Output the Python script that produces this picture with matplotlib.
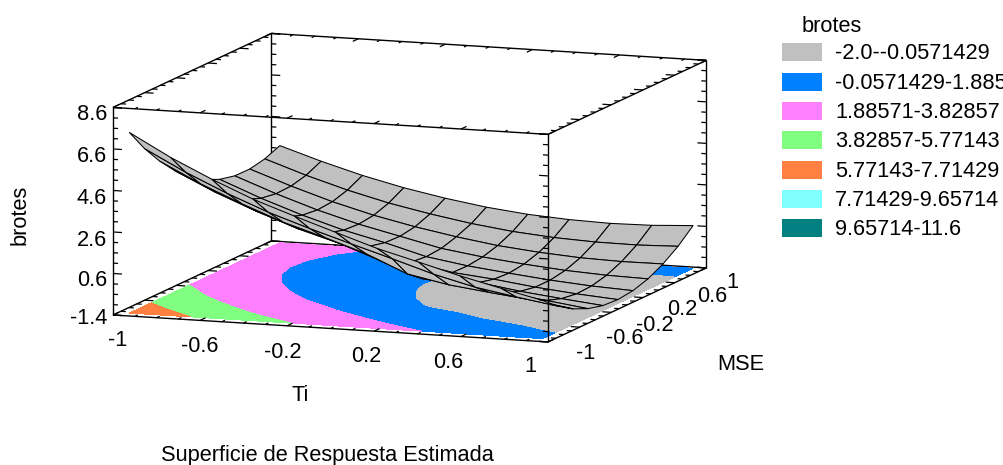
import numpy as np
import matplotlib
matplotlib.use("Agg")
import matplotlib.pyplot as plt
from matplotlib.patches import Rectangle
from mpl_toolkits.mplot3d import proj3d

plt.rcParams["font.family"] = ["Liberation Sans", "DejaVu Sans"]

W, H = 1004, 465

# Surface grid
ti_vals = [-0.95, -0.76, -0.57, -0.38, -0.19, 0.0, 0.19, 0.38, 0.57, 0.76, 0.95]
mse_vals = [-0.93, -0.74, -0.55, -0.36, -0.17, 0.02, 0.21, 0.40, 0.59, 0.78, 0.97]
# one row per Ti value, one column per MSE value
brotes_z = [
    [7.30, 6.19, 5.25, 4.45, 3.82, 3.34, 3.01, 2.84, 2.83, 2.98, 3.28],
    [6.22, 5.17, 4.27, 3.52, 2.93, 2.50, 2.22, 2.10, 2.13, 2.31, 2.65],
    [5.29, 4.28, 3.43, 2.72, 2.17, 1.78, 1.53, 1.44, 1.50, 1.72, 2.09],
    [4.45, 3.49, 2.67, 2.01, 1.50, 1.14, 0.93, 0.88, 0.97, 1.22, 1.62],
    [3.76, 2.83, 2.06, 1.43, 0.95, 0.62, 0.45, 0.42, 0.54, 0.82, 1.24],
    [3.10, 2.22, 1.40, 0.72, 0.14, -0.02, -0.10, -0.04, 0.18, 0.48, 0.93],
    [2.45, 1.62, 0.55, -0.02, -0.28, -0.40, -0.42, -0.33, -0.12, 0.22, 0.71],
    [1.92, 1.00, 0.15, -0.20, -0.42, -0.60, -0.65, -0.55, -0.32, 0.05, 0.58],
    [1.38, 0.50, -0.10, -0.45, -0.72, -0.86, -0.86, -0.73, -0.46, -0.04, 0.52],
    [0.90, 0.15, -0.33, -0.70, -0.95, -1.06, -1.02, -0.84, -0.52, -0.06, 0.55],
    [0.44, -0.17, -0.64, -0.97, -1.16, -1.21, -1.12, -0.89, -0.51, 0.00, 0.66],
]

levels = [-2.0, -0.0571429, 1.88571, 3.82857, 5.77143, 7.71429, 9.65714, 11.6]
level_colors = ["#C0C0C0", "#0080FF", "#FF80FF", "#80FF80", "#FF8040", "#80FFFF", "#008080"]
legend_labels = [
    "-2.0--0.0571429",
    "-0.0571429-1.88571",
    "1.88571-3.82857",
    "3.82857-5.77143",
    "5.77143-7.71429",
    "7.71429-9.65714",
    "9.65714-11.6",
]

ti_ticks = [-1, -0.6, -0.2, 0.2, 0.6, 1]
mse_ticks = [-1, -0.6, -0.2, 0.2, 0.6, 1]
z_ticks = [-1.4, 0.6, 2.6, 4.6, 6.6, 8.6]
ti_labels = ["-1", "-0.6", "-0.2", "0.2", "0.6", "1"]
mse_labels = ["-1", "-0.6", "-0.2", "0.2", "0.6", "1"]
z_labels = ["-1.4", "0.6", "2.6", "4.6", "6.6", "8.6"]

# Label centres in pixels
ti_label_px = [(118, 341), (200, 347), (283, 352), (366, 357), (448, 362), (530, 366)]
mse_label_px = [(586, 353), (625, 339), (655, 325), (682, 309), (712, 297), (732, 282)]
z_label_y = [318, 281, 240, 198, 157, 115]

FONT = 15.7

fig = plt.figure(figsize=(W / 100, H / 100), dpi=100)
ax = fig.add_axes([0, 0, 1, 1], projection="3d", proj_type="ortho", computed_zorder=False)
ax.set_axis_off()
ax.set_xlim(-1, 1, view_margin=0)
ax.set_ylim(-1, 1, view_margin=0)
ax.set_zlim(-1.4, 8.6, view_margin=0)
ax.set_box_aspect((1, 1, 0.455))
ax.view_init(elev=9.8, azim=-70)

ti_grid, mse_grid = np.meshgrid(ti_vals, mse_vals, indexing="ij")
z_grid = np.array(brotes_z)


def line3(xs, ys, zs, lw=1.0, zorder=1):
    ax.plot(xs, ys, zs, color="black", lw=lw, zorder=zorder, solid_capstyle="butt")


# Box edges and their ticks, the ones in front of the surface get a high zorder
ZLO, ZHI = z_ticks[0], z_ticks[-1]
for mse, z, d, zo in [(-1, ZLO, 1, 5), (1, ZLO, -1, 1), (-1, ZHI, 1, 5), (1, ZHI, -1, 1)]:
    line3([-1, 1], [mse, mse], [z, z], zorder=zo)
    for i, t in enumerate(np.arange(-1, 1.01, 0.1)):
        size = 0.07 if i % 4 == 0 else 0.04
        line3([t, t], [mse, mse + d * size], [z, z], lw=0.9, zorder=zo)
for ti, z, d, zo in [(-1, ZLO, 1, 1), (1, ZLO, -1, 5), (-1, ZHI, 1, 1), (1, ZHI, -1, 1)]:
    line3([ti, ti], [-1, 1], [z, z], zorder=zo)
    for i, m in enumerate(np.arange(-1, 1.01, 0.1)):
        size = 0.041 if i % 4 == 0 else 0.023
        line3([ti, ti + d * size], [m, m], [z, z], lw=0.9, zorder=zo)
for ti, mse, d, zo in [(-1, -1, 1, 5), (1, -1, -1, 5), (1, 1, -1, 1), (-1, 1, 1, 1)]:
    line3([ti, ti], [mse, mse], [ZLO, ZHI], zorder=zo)
    for i, z in enumerate(np.arange(ZLO, ZHI + 0.01, 0.5)):
        size = 0.041 if i % 4 == 0 else 0.023
        line3([ti, ti + d * size], [mse, mse], [z, z], lw=0.9, zorder=zo)

# Contours on the floor
ax.contourf(ti_grid.T, mse_grid.T, z_grid.T, levels=levels, colors=level_colors,
            zdir="z", offset=ZLO, zorder=2, antialiased=False)

# The surface itself
ax.plot_surface(ti_grid, mse_grid, z_grid, rstride=1, cstride=1, color="#C0C0C0",
                shade=False, edgecolor="black", linewidth=0.75, zorder=3)


def corner_px(t, m, z):
    xp, yp, _ = proj3d.proj_transform(t, m, z, ax.get_proj())
    px = ax.transData.transform((xp, yp))
    return px[0], H - px[1]


# Fit the box onto the pixels of the reference
size = 700.0
ax.set_position([0, 0, size / W, size / H])
fig.canvas.draw()
a = corner_px(-1, -1, ZLO)
b = corner_px(1, -1, ZLO)
size *= (548 - 113) / (b[0] - a[0])
ax.set_position([0, 0, size / W, size / H])
fig.canvas.draw()
a = corner_px(-1, -1, ZLO)
ax.set_position([(113 - a[0]) / W, (a[1] - 315) / H, size / W, size / H])


def px_text(x, y, s, ha="center", va="center", **kw):
    fig.text(x / W, 1 - y / H, s, ha=ha, va=va, fontsize=FONT, color="black", **kw)


for (x, y), s in zip(ti_label_px, ti_labels):
    px_text(x, y, s)
for (x, y), s in zip(mse_label_px, mse_labels):
    px_text(x, y, s)
for y, s in zip(z_label_y, z_labels):
    px_text(107, y, s, ha="right")

px_text(20, 215, "brotes", rotation=90)
px_text(300, 395, "Ti")
px_text(741, 364, "MSE")
px_text(327, 455, "Superficie de Respuesta Estimada")

# Legend on the right, the long label runs off the edge like in the original
px_text(802, 26, "brotes", ha="left")
legend_y = [52, 82, 111, 140, 170, 199, 228]
for y, col, lab in zip(legend_y, level_colors, legend_labels):
    fig.add_artist(Rectangle((782 / W, 1 - (y + 9) / H), 40 / W, 18 / H, facecolor=col,
                             edgecolor="none", transform=fig.transFigure))
    px_text(835, y + 1.5, lab, ha="left")

fig.savefig("out.png", dpi=100)
